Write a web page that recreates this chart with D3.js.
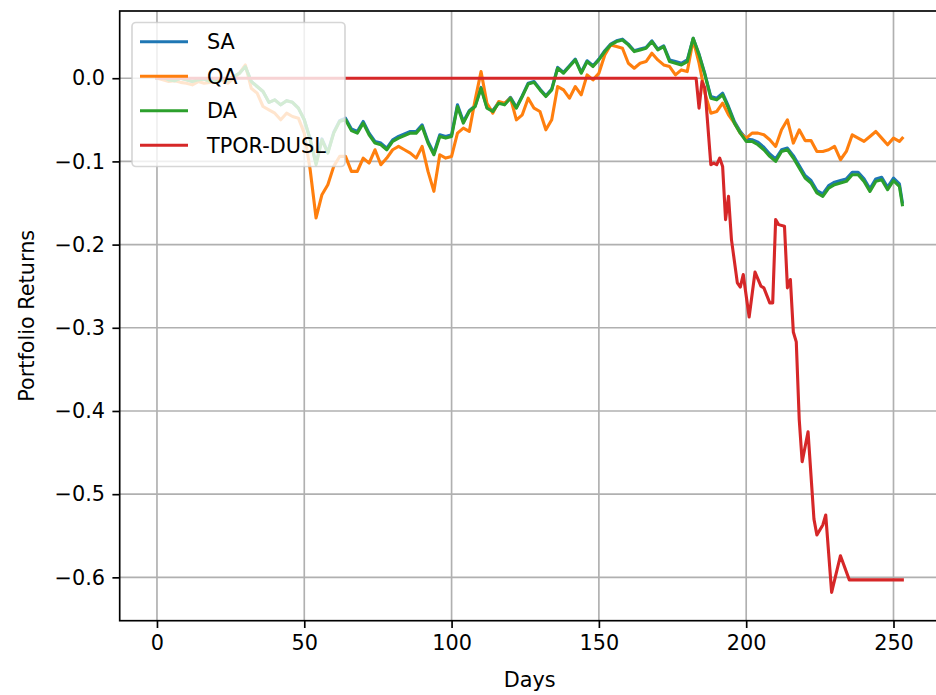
<!DOCTYPE html>
<html>
<head>
<meta charset="utf-8">
<script src="https://cdn.jsdelivr.net/npm/d3@7"></script>
<style>
  body { margin: 0; background: #fff; }
  text { font-family: "DejaVu Sans", sans-serif; }
</style>
</head>
<body>
<svg id="chart" width="936" height="695"></svg>
<script>
// shared day grid for SA / QA / DA (every second day, plus the last one)
const days = d3.range(0, 253, 2).concat([253]);

const daRet = [
  0.000, 0.001, -0.002, -0.003, 0.000, -0.002, -0.004, -0.002, -0.001, -0.004,
  -0.003, -0.001, -0.002, 0.002, 0.006, 0.014, -0.004, -0.010, -0.016, -0.029,
  -0.026, -0.032, -0.027, -0.029, -0.036, -0.050, -0.074, -0.104, -0.074, -0.090,
  -0.066, -0.052, -0.050, -0.063, -0.066, -0.054, -0.068, -0.078, -0.080, -0.086,
  -0.076, -0.072, -0.069, -0.066, -0.066, -0.058, -0.078, -0.092, -0.070, -0.072,
  -0.070, -0.034, -0.054, -0.040, -0.034, -0.012, -0.036, -0.040, -0.030, -0.032,
  -0.024, -0.036, -0.022, -0.007, -0.005, -0.014, -0.022, -0.014, 0.012, 0.006,
  0.014, 0.022, 0.006, 0.020, 0.014, 0.022, 0.032, 0.040, 0.044, 0.046,
  0.040, 0.032, 0.034, 0.036, 0.044, 0.034, 0.038, 0.020, 0.018, 0.016,
  0.020, 0.048, 0.028, 0.004, -0.024, -0.026, -0.020, -0.036, -0.054, -0.066,
  -0.076, -0.076, -0.080, -0.086, -0.094, -0.100, -0.088, -0.086, -0.096, -0.108,
  -0.120, -0.126, -0.138, -0.142, -0.132, -0.128, -0.126, -0.124, -0.116, -0.116,
  -0.124, -0.136, -0.124, -0.122, -0.134, -0.123, -0.130, -0.152
];

const saRet = [
  0.000, 0.001, -0.002, -0.003, 0.000, -0.002, -0.004, -0.002, -0.001, -0.004,
  -0.003, -0.001, -0.002, 0.002, 0.006, 0.014, -0.004, -0.010, -0.016, -0.029,
  -0.026, -0.032, -0.027, -0.029, -0.036, -0.050, -0.073, -0.102, -0.073, -0.089,
  -0.065, -0.051, -0.048, -0.061, -0.064, -0.052, -0.066, -0.076, -0.078, -0.084,
  -0.074, -0.070, -0.067, -0.064, -0.064, -0.056, -0.076, -0.090, -0.068, -0.070,
  -0.068, -0.032, -0.052, -0.039, -0.033, -0.011, -0.035, -0.039, -0.029, -0.031,
  -0.023, -0.035, -0.021, -0.006, -0.004, -0.013, -0.021, -0.013, 0.013, 0.007,
  0.015, 0.023, 0.007, 0.021, 0.015, 0.023, 0.033, 0.041, 0.045, 0.047,
  0.041, 0.033, 0.035, 0.037, 0.045, 0.035, 0.039, 0.022, 0.020, 0.018,
  0.022, 0.048, 0.029, 0.005, -0.022, -0.024, -0.018, -0.034, -0.052, -0.064,
  -0.073, -0.074, -0.077, -0.083, -0.091, -0.097, -0.086, -0.084, -0.093, -0.105,
  -0.117, -0.123, -0.135, -0.139, -0.129, -0.125, -0.123, -0.121, -0.113, -0.113,
  -0.121, -0.133, -0.121, -0.119, -0.131, -0.120, -0.127, -0.149
];

const qaRet = [
  0.000, -0.002, -0.004, -0.003, -0.005, -0.006, -0.008, -0.004, -0.006, -0.005,
  -0.004, -0.002, -0.006, 0.000, 0.006, 0.016, -0.012, -0.018, -0.034, -0.038,
  -0.042, -0.050, -0.042, -0.046, -0.048, -0.066, -0.110, -0.168, -0.140, -0.128,
  -0.106, -0.094, -0.094, -0.112, -0.112, -0.096, -0.102, -0.086, -0.104, -0.096,
  -0.086, -0.082, -0.086, -0.090, -0.096, -0.082, -0.112, -0.136, -0.092, -0.096,
  -0.094, -0.066, -0.060, -0.064, -0.026, 0.008, -0.030, -0.042, -0.028, -0.030,
  -0.024, -0.050, -0.044, -0.024, -0.036, -0.040, -0.062, -0.050, -0.010, -0.014,
  -0.024, -0.010, -0.020, 0.004, -0.002, 0.006, 0.028, 0.040, 0.038, 0.036,
  0.018, 0.012, 0.018, 0.020, 0.030, 0.022, 0.016, 0.014, 0.004, 0.010,
  0.008, 0.046, 0.018, -0.018, -0.042, -0.040, -0.030, -0.044, -0.054, -0.066,
  -0.072, -0.066, -0.066, -0.068, -0.074, -0.082, -0.062, -0.050, -0.078, -0.062,
  -0.075, -0.075, -0.088, -0.088, -0.086, -0.082, -0.098, -0.088, -0.068, -0.072,
  -0.076, -0.070, -0.064, -0.072, -0.080, -0.072, -0.076, -0.072
];

// TPOR-DUSL stays flat at zero until the drop, so it keeps its own day list
const tporDays = [0, 183, 184, 185, 186, 188, 189, 190, 191, 192, 193, 194, 195, 197, 198,
  199, 201, 203, 205, 206, 208, 209, 210, 211, 213, 214, 215, 216, 217, 218, 219, 221,
  223, 224, 226, 227, 229, 232, 235, 253];
const tporRet = [0, 0, -0.036, -0.004, -0.012, -0.104, -0.102, -0.104, -0.096, -0.106,
  -0.170, -0.142, -0.194, -0.246, -0.251, -0.236, -0.287, -0.233, -0.250, -0.252, -0.270,
  -0.270, -0.170, -0.176, -0.178, -0.252, -0.242, -0.305, -0.317, -0.410, -0.461, -0.425,
  -0.530, -0.549, -0.537, -0.525, -0.618, -0.574, -0.603, -0.603];

const xTicks = [0, 50, 100, 150, 200, 250];
const yTicks = [-0.6, -0.5, -0.4, -0.3, -0.2, -0.1, 0.0];

const series = [
  { name: 'SA', color: '#1f77b4', x: days, y: saRet },
  { name: 'QA', color: '#ff7f0e', x: days, y: qaRet },
  { name: 'DA', color: '#2ca02c', x: days, y: daRet },
  { name: 'TPOR-DUSL', color: '#d62728', x: tporDays, y: tporRet }
];

const svg = d3.select('#chart');
const axL = 119.7, axR = 939.6, axT = 11, axB = 620.7;
const fs = 20.8;

const x = d3.scaleLinear().domain([-12.65, 265.65]).range([axL, axR]);
const y = d3.scaleLinear().domain([-0.6521, 0.0808]).range([axB, axT]);

// grid
const grid = svg.append('g').attr('stroke', '#b0b0b0').attr('stroke-width', 1.67);
grid.selectAll('.gx').data(xTicks).enter().append('line')
  .attr('x1', d => x(d)).attr('x2', d => x(d)).attr('y1', axT).attr('y2', axB);
grid.selectAll('.gy').data(yTicks).enter().append('line')
  .attr('y1', d => y(d)).attr('y2', d => y(d)).attr('x1', axL).attr('x2', axR);

// lines
svg.append('clipPath').attr('id', 'clip').append('rect')
  .attr('x', axL).attr('y', axT).attr('width', axR - axL).attr('height', axB - axT);

const line = d3.line().x(d => x(d[0])).y(d => y(d[1]));
svg.append('g').attr('clip-path', 'url(#clip)')
  .selectAll('path').data(series).enter().append('path')
  .attr('d', s => line(s.x.map((d, i) => [d, s.y[i]])))
  .attr('fill', 'none')
  .attr('stroke', s => s.color)
  .attr('stroke-width', 3.1)
  .attr('stroke-linejoin', 'round')
  .attr('stroke-linecap', 'square');

// axes
const xAxis = d3.axisBottom(x).tickValues(xTicks).tickSize(7.3).tickPadding(7.3).tickFormat(d3.format('d'));
const yAxis = d3.axisLeft(y).tickValues(yTicks).tickSize(7.3).tickPadding(7.3).tickFormat(d3.format('.1f'));

const gx = svg.append('g').attr('transform', `translate(0,${axB})`).call(xAxis);
const gy = svg.append('g').attr('transform', `translate(${axL},0)`).call(yAxis);
[gx, gy].forEach(g => {
  g.select('.domain').remove();
  g.selectAll('.tick line').attr('stroke', '#000').attr('stroke-width', 1.67);
  g.selectAll('.tick text').attr('font-size', fs).attr('fill', '#000')
    .style('font-family', '"DejaVu Sans", sans-serif');
});

// spines
svg.append('rect')
  .attr('x', axL).attr('y', axT).attr('width', axR - axL).attr('height', axB - axT)
  .attr('fill', 'none').attr('stroke', '#000').attr('stroke-width', 1.67);

// axis labels
svg.append('text')
  .attr('x', (axL + axR) / 2).attr('y', 687)
  .attr('text-anchor', 'middle').attr('font-size', fs)
  .text('Days');
svg.append('text')
  .attr('transform', `translate(34,${(axT + axB) / 2}) rotate(-90)`)
  .attr('text-anchor', 'middle').attr('font-size', fs)
  .text('Portfolio Returns');

// legend
const lg = svg.append('g');
lg.append('rect')
  .attr('x', 132).attr('y', 22.5).attr('width', 213).attr('height', 144)
  .attr('rx', 4).attr('fill', 'rgba(255,255,255,0.8)')
  .attr('stroke', 'rgba(204,204,204,0.8)').attr('stroke-width', 1.67);
const rows = lg.selectAll('.row').data(series).enter().append('g')
  .attr('transform', (d, i) => `translate(0,${41.7 + i * 34.5})`);
rows.append('line')
  .attr('x1', 140).attr('x2', 188).attr('y1', 0).attr('y2', 0)
  .attr('stroke', d => d.color).attr('stroke-width', 3.1);
rows.append('text')
  .attr('x', 207).attr('y', 0).attr('dy', '0.36em')
  .attr('font-size', fs)
  .text(d => d.name);
</script>
</body>
</html>
